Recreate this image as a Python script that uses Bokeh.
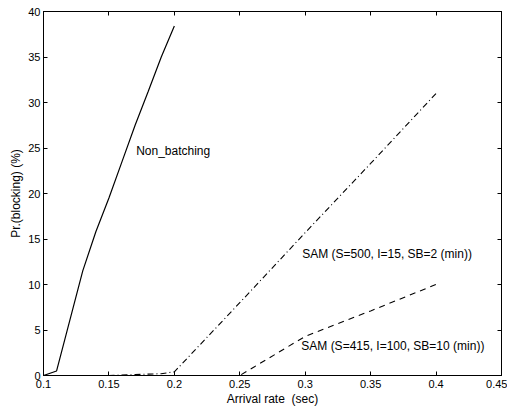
from bokeh.plotting import figure
from bokeh.models import Range1d, LinearAxis, FixedTicker, Label
from bokeh.embed import file_html
from bokeh.resources import INLINE

# ---- data ----
x_ticks = [0.1, 0.15, 0.2, 0.25, 0.3, 0.35, 0.4, 0.45]
x_tick_labels = ["0.1", "0.15", "0.2", "0.25", "0.3", "0.35", "0.4", "0.45"]
y_ticks = [0, 5, 10, 15, 20, 25, 30, 35, 40]
y_tick_labels = ["0", "5", "10", "15", "20", "25", "30", "35", "40"]

rate_nb = [0.10, 0.11, 0.13, 0.14, 0.15, 0.16, 0.17, 0.18, 0.19, 0.20]
block_nb = [0.0, 0.5, 11.5, 15.8, 19.5, 23.5, 27.5, 31.2, 35.0, 38.4]

rate_s500 = [0.10, 0.15, 0.17, 0.18, 0.19, 0.20, 0.25, 0.30, 0.35, 0.40]
block_s500 = [0.0, 0.0, 0.1, 0.15, 0.2, 0.4, 8.0, 15.7, 23.3, 31.0]

rate_s415 = [0.10, 0.15, 0.20, 0.25, 0.30, 0.35, 0.40]
block_s415 = [0.0, 0.0, 0.0, 0.0, 4.3, 7.1, 10.0]

series_names = ["Non_batching",
                "SAM (S=500, I=15, SB=2 (min))",
                "SAM (S=415, I=100, SB=10 (min))"]

FONT = "Liberation Sans"
TICK_FS = "11px"
TEXT_FS = "12px"

p = figure(frame_width=458, frame_height=364,
           x_range=Range1d(0.1, 0.45), y_range=Range1d(0, 40),
           output_backend="svg", toolbar_location=None,
           min_border_left=43, min_border_right=6,
           min_border_top=11, min_border_bottom=32,
           background_fill_color="white", border_fill_color="white")
p.grid.visible = False
p.outline_line_color = "black"
p.outline_line_width = 1

def style_axis(ax, ticks, labels, show_labels=True):
    ax.ticker = FixedTicker(ticks=ticks)
    ax.major_label_overrides = {t: l for t, l in zip(ticks, labels)}
    ax.major_tick_in = 4
    ax.major_tick_out = 0
    ax.minor_tick_in = 0
    ax.minor_tick_out = 0
    ax.axis_line_color = "black"
    ax.major_tick_line_color = "black"
    ax.major_label_text_font = FONT
    ax.major_label_text_font_size = TICK_FS if show_labels else "0px"
    ax.major_label_text_color = "black"
    ax.axis_label_text_font = FONT
    ax.axis_label_text_font_size = TEXT_FS
    ax.axis_label_text_font_style = "normal"
    ax.axis_label_text_color = "black"

style_axis(p.xaxis[0], x_ticks, x_tick_labels)
style_axis(p.yaxis[0], y_ticks, y_tick_labels)
p.xaxis[0].axis_label = "Arrival rate\u00a0\u00a0(sec)"
p.yaxis[0].axis_label = "Pr.(blocking) (%)"
p.xaxis[0].major_label_standoff = 4
p.xaxis[0].axis_label_standoff = 1
p.yaxis[0].major_label_standoff = 3
p.yaxis[0].axis_label_standoff = 2

top = LinearAxis()
style_axis(top, x_ticks, ["" for _ in x_ticks], show_labels=False)
top.major_label_standoff = 0
p.add_layout(top, "above")
right = LinearAxis()
style_axis(right, y_ticks, ["" for _ in y_ticks], show_labels=False)
right.major_label_standoff = 0
p.add_layout(right, "right")

p.line(rate_nb, block_nb, line_color="black", line_width=1.2)
p.line(rate_s500, block_s500, line_color="black", line_width=1.1, line_dash="6 3 1 3")
p.line(rate_s415, block_s415, line_color="black", line_width=1.1, line_dash="6 5")

label_pos = [(0.1708, 24.7), (0.2977, 13.4), (0.297, 3.2)]
for name, (lx, ly) in zip(series_names, label_pos):
    p.add_layout(Label(x=lx, y=ly, text=name, text_font=FONT, text_font_size=TEXT_FS,
                       text_baseline="middle", text_align="left", text_color="black"))

open("out.html", "w").write(file_html(p, INLINE))
